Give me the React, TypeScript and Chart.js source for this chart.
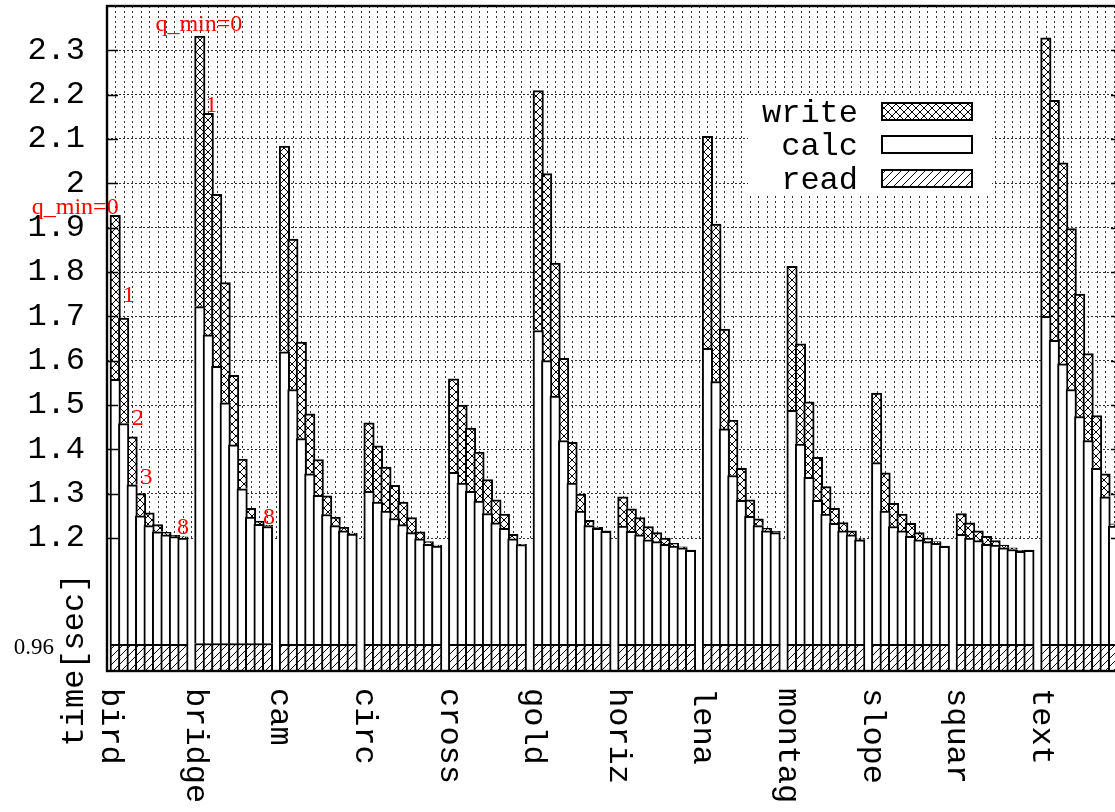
import React, { useEffect, useRef } from 'react';
import { Chart, registerables } from 'chart.js';

Chart.register(...registerables);

// ---------------- data ----------------
const categories = ['bird', 'bridge', 'cam', 'circ', 'cross', 'gold', 'horiz', 'lena', 'montag', 'slope', 'squar', 'text'];
const qMin = [0, 1, 2, 3, 4, 5, 6, 7, 8];

// top of the "read" part of each bar (per image)
const readTop = [0.96, 0.962, 0.96, 0.96, 0.96, 0.96, 0.96, 0.96, 0.96, 0.96, 0.96, 0.96];

// top of the "calc" part (read + calc), one row per image, one value per q_min
const calcTop: number[][] = [
  [1.558, 1.458, 1.320, 1.250, 1.228, 1.214, 1.207, 1.203, 1.200],
  [1.722, 1.658, 1.587, 1.505, 1.410, 1.311, 1.247, 1.231, 1.226],
  [1.620, 1.535, 1.424, 1.345, 1.296, 1.253, 1.228, 1.216, 1.209],
  [1.305, 1.281, 1.261, 1.244, 1.230, 1.212, 1.198, 1.186, 1.182],
  [1.348, 1.324, 1.305, 1.283, 1.255, 1.234, 1.222, 1.198, 1.185],
  [1.668, 1.600, 1.520, 1.420, 1.324, 1.261, 1.228, 1.222, 1.215],
  [1.227, 1.215, 1.207, 1.196, 1.192, 1.186, 1.182, 1.178, 1.172],
  [1.628, 1.553, 1.446, 1.341, 1.285, 1.249, 1.228, 1.216, 1.212],
  [1.488, 1.412, 1.337, 1.285, 1.254, 1.233, 1.216, 1.207, 1.196],
  [1.370, 1.261, 1.226, 1.216, 1.204, 1.196, 1.192, 1.188, 1.181],
  [1.208, 1.200, 1.194, 1.186, 1.184, 1.178, 1.174, 1.170, 1.172],
  [1.700, 1.646, 1.593, 1.535, 1.474, 1.420, 1.357, 1.293, 1.227],
];

// total time (read + calc + write)
const totalTop: number[][] = [
  [1.928, 1.696, 1.428, 1.300, 1.257, 1.230, 1.213, 1.206, 1.2025],
  [2.332, 2.158, 1.975, 1.776, 1.567, 1.378, 1.267, 1.238, 1.229],
  [2.084, 1.874, 1.642, 1.480, 1.377, 1.295, 1.247, 1.224, 1.211],
  [1.460, 1.408, 1.360, 1.319, 1.281, 1.246, 1.214, 1.192, 1.184],
  [1.559, 1.500, 1.448, 1.394, 1.332, 1.286, 1.254, 1.208, 1.186],
  [2.209, 2.022, 1.820, 1.605, 1.416, 1.299, 1.240, 1.224, 1.216],
  [1.293, 1.266, 1.246, 1.226, 1.212, 1.200, 1.188, 1.180, 1.173],
  [2.106, 1.908, 1.671, 1.466, 1.357, 1.286, 1.243, 1.222, 1.215],
  [1.813, 1.638, 1.507, 1.382, 1.316, 1.267, 1.235, 1.216, 1.198],
  [1.527, 1.347, 1.278, 1.254, 1.233, 1.212, 1.200, 1.192, 1.182],
  [1.255, 1.234, 1.216, 1.204, 1.194, 1.184, 1.178, 1.172, 1.173],
  [2.328, 2.187, 2.046, 1.898, 1.750, 1.616, 1.476, 1.345, 1.232],
];

const yTicks = [1.2, 1.3, 1.4, 1.5, 1.6, 1.7, 1.8, 1.9, 2.0, 2.1, 2.2, 2.3];
const readTickLabel = '0.96';
const yTitle = 'time[sec]';
const seriesNames = { write: 'write', calc: 'calc', read: 'read' };

const notes = [
  { group: 0, bar: 0, text: 'q_min=0' },
  { group: 0, bar: 1, text: '1' },
  { group: 0, bar: 2, text: '2' },
  { group: 0, bar: 3, text: '3' },
  { group: 0, bar: 8, text: '8' },
  { group: 1, bar: 0, text: 'q_min=0' },
  { group: 1, bar: 1, text: '1' },
  { group: 1, bar: 8, text: '8' },
];

// ---------------- layout / style ----------------
const W = 1130;
const H = 812;
const AREA = { left: 107, top: 6, right: 1122, bottom: 671 };
const XMIN = -0.97;
const XMAX = 119;
const SLOTS_PER_GROUP = qMin.length + 1;
const PITCH = (AREA.right - AREA.left) / (XMAX - XMIN);
const MONO = "'Liberation Mono', 'DejaVu Sans Mono', monospace";
const SERIF = "'Liberation Serif', 'DejaVu Serif', serif";
const GRID = '#333';
// pixel offsets of the red notes from the top-centre of their bar
const NOTE_OFFSETS: [number, number][] = [
  [-40, -1], [5, -16], [5.5, -11.5], [6, -10], [0, -3], [-1, -5], [3, -1.5], [1.5, -1],
];

function makePattern(kind: 'cross' | 'slash'): CanvasPattern | string {
  const c = document.createElement('canvas');
  c.width = 8;
  c.height = 8;
  const g = c.getContext('2d');
  if (!g) return '#fff';
  g.fillStyle = '#fff';
  g.fillRect(0, 0, 8, 8);
  g.strokeStyle = '#000';
  g.lineWidth = 1;
  g.beginPath();
  if (kind === 'cross') {
    g.moveTo(-1, -1); g.lineTo(9, 9);
    g.moveTo(9, -1); g.lineTo(-1, 9);
  } else {
    g.moveTo(-1, 9); g.lineTo(9, -1);
    g.moveTo(-1, 1); g.lineTo(1, -1);
    g.moveTo(7, 9); g.lineTo(9, 7);
  }
  g.stroke();
  return g.createPattern(c, 'repeat') || '#fff';
}

export default function App() {
  const ref = useRef<HTMLCanvasElement | null>(null);

  useEffect(() => {
    const canvas = ref.current;
    if (!canvas) return;

    const crossPat = makePattern('cross');
    const slashPat = makePattern('slash');

    const readData: { x: number; y: number }[] = [];
    const calcData: { x: number; y: number }[] = [];
    const writeData: { x: number; y: number }[] = [];
    categories.forEach((_, g) => {
      calcTop[g].forEach((c, b) => {
        const x = g * SLOTS_PER_GROUP + b;
        readData.push({ x, y: readTop[g] });
        calcData.push({ x, y: +(c - readTop[g]).toFixed(4) });
        writeData.push({ x, y: +(totalTop[g][b] - c).toFixed(4) });
      });
    });
    const slotTicks = Array.from({ length: categories.length * SLOTS_PER_GROUP }, (_, i) => ({ value: i }));

    const barCommon = {
      borderColor: '#000',
      borderWidth: 2,
      barThickness: PITCH + 2,
      clip: 0,
    };

    const decor = {
      id: 'decor',
      beforeDatasetsDraw(chart: any) {
        const { ctx, chartArea, scales } = chart;
        const xs = scales.x;
        const ys = scales.y;
        const yEnd = ys.getPixelForValue(yTicks[0]) + 2;
        ctx.save();
        ctx.strokeStyle = GRID;
        ctx.lineWidth = 1;
        ctx.setLineDash([2, 3]);
        for (let i = 0; i < xs.ticks.length; i++) {
          const px = Math.round(xs.getPixelForValue(xs.ticks[i].value)) + 0.5;
          if (px <= chartArea.left + 1 || px >= chartArea.right - 1) continue;
          ctx.beginPath();
          ctx.moveTo(px, chartArea.top);
          ctx.lineTo(px, yEnd);
          ctx.stroke();
        }
        ctx.restore();
      },
      afterDatasetsDraw(chart: any) {
        const { ctx, chartArea, scales } = chart;
        const xs = scales.x;
        const ys = scales.y;
        ctx.save();

        // red notes
        ctx.fillStyle = '#ff0000';
        ctx.font = `24px ${SERIF}`;
        ctx.textAlign = 'center';
        ctx.textBaseline = 'alphabetic';
        notes.forEach((n, i) => {
          const px = xs.getPixelForValue(n.group * SLOTS_PER_GROUP + n.bar);
          const py = ys.getPixelForValue(totalTop[n.group][n.bar]);
          const [dx, dy] = NOTE_OFFSETS[i];
          ctx.fillText(n.text, px + dx, py + dy);
        });

        // legend
        ctx.fillStyle = '#fff';
        ctx.fillRect(748, 95, 244, 98);
        const entries = [
          { label: chart.data.datasets[2].label, fill: crossPat },
          { label: chart.data.datasets[1].label, fill: '#fff' },
          { label: chart.data.datasets[0].label, fill: slashPat },
        ];
        ctx.font = `32px ${MONO}`;
        ctx.textAlign = 'right';
        entries.forEach((e, i) => {
          const base = 122 + i * 33.4;
          ctx.fillStyle = '#000';
          ctx.fillText(e.label, 858, base);
          const ry = Math.round(base - 19);
          ctx.fillStyle = e.fill;
          ctx.fillRect(882, ry, 90, 17);
          ctx.strokeStyle = '#000';
          ctx.lineWidth = 2;
          ctx.strokeRect(882, ry, 90, 17);
        });

        // border
        ctx.strokeStyle = '#000';
        ctx.lineWidth = 2.4;
        ctx.strokeRect(chartArea.left, chartArea.top, chartArea.right - chartArea.left, chartArea.bottom - chartArea.top);

        // inward y ticks (both sides)
        ctx.lineWidth = 1.6;
        yTicks.forEach((v) => {
          const py = Math.round(ys.getPixelForValue(v)) + 0.5;
          ctx.beginPath();
          ctx.moveTo(chartArea.left, py);
          ctx.lineTo(chartArea.left + 11, py);
          ctx.moveTo(chartArea.right - 11, py);
          ctx.lineTo(chartArea.right, py);
          ctx.stroke();
        });

        // x category labels (rotated, reading downwards)
        ctx.fillStyle = '#000';
        ctx.font = `32px ${MONO}`;
        ctx.textAlign = 'left';
        ctx.textBaseline = 'alphabetic';
        categories.forEach((name, g) => {
          const px = xs.getPixelForValue(g * SLOTS_PER_GROUP);
          ctx.save();
          ctx.translate(px - 13, chartArea.bottom + 17);
          ctx.rotate(Math.PI / 2);
          ctx.fillText(name, 0, 0);
          ctx.restore();
        });

        // y title
        ctx.save();
        ctx.translate(83, 660);
        ctx.rotate(-Math.PI / 2);
        ctx.textAlign = 'center';
        ctx.fillText(yTitle, 0, 0);
        ctx.restore();

        // 0.96 label at read level
        ctx.font = `23px ${SERIF}`;
        ctx.textAlign = 'right';
        ctx.textBaseline = 'alphabetic';
        ctx.fillText(readTickLabel, 54, ys.getPixelForValue(readTop[0]) + 9.5);

        ctx.restore();
      },
    };

    const chart = new Chart(canvas, {
      type: 'bar',
      data: {
        datasets: [
          { ...barCommon, label: seriesNames.read, data: readData, backgroundColor: slashPat },
          { ...barCommon, label: seriesNames.calc, data: calcData, backgroundColor: '#fff' },
          { ...barCommon, label: seriesNames.write, data: writeData, backgroundColor: crossPat },
        ] as any,
      },
      options: {
        responsive: false,
        animation: false,
        devicePixelRatio: 1,
        events: [],
        layout: {
          padding: { left: 0, top: AREA.top, right: W - AREA.right, bottom: H - AREA.bottom },
        },
        plugins: {
          legend: { display: false },
          tooltip: { enabled: false },
          title: { display: false },
        },
        scales: {
          x: {
            type: 'linear',
            stacked: true,
            min: XMIN,
            max: XMAX,
            offset: false,
            afterBuildTicks: (s: any) => { s.ticks = slotTicks.map((t) => ({ ...t })); },
            afterFit: (s: any) => { s.height = 0; s.paddingLeft = 0; s.paddingRight = 0; },
            ticks: { display: false, autoSkip: false },
            grid: { display: false, drawTicks: false },
            border: { display: false },
          },
          y: {
            type: 'linear',
            stacked: true,
            min: 0.9,
            max: 2.4,
            afterBuildTicks: (s: any) => { s.ticks = yTicks.map((v) => ({ value: v })); },
            afterFit: (s: any) => { s.width = AREA.left; s.paddingTop = 0; s.paddingBottom = 0; },
            ticks: {
              autoSkip: false,
              padding: 22,
              color: '#000',
              font: { family: MONO, size: 32 },
              callback: (v: any) => String(Math.round(Number(v) * 10) / 10),
            },
            grid: { color: GRID, lineWidth: 1, drawTicks: false },
            border: { display: false, dash: [2, 2] },
          },
        } as any,
      },
      plugins: [decor],
    });

    return () => chart.destroy();
  }, []);

  return (
    <div style={{ position: 'fixed', left: 0, top: 0, width: 1115, height: 812, overflow: 'hidden', background: '#fff' }}>
      <canvas ref={ref} width={W} height={H} style={{ width: W, height: H, display: 'block' }} />
    </div>
  );
}
